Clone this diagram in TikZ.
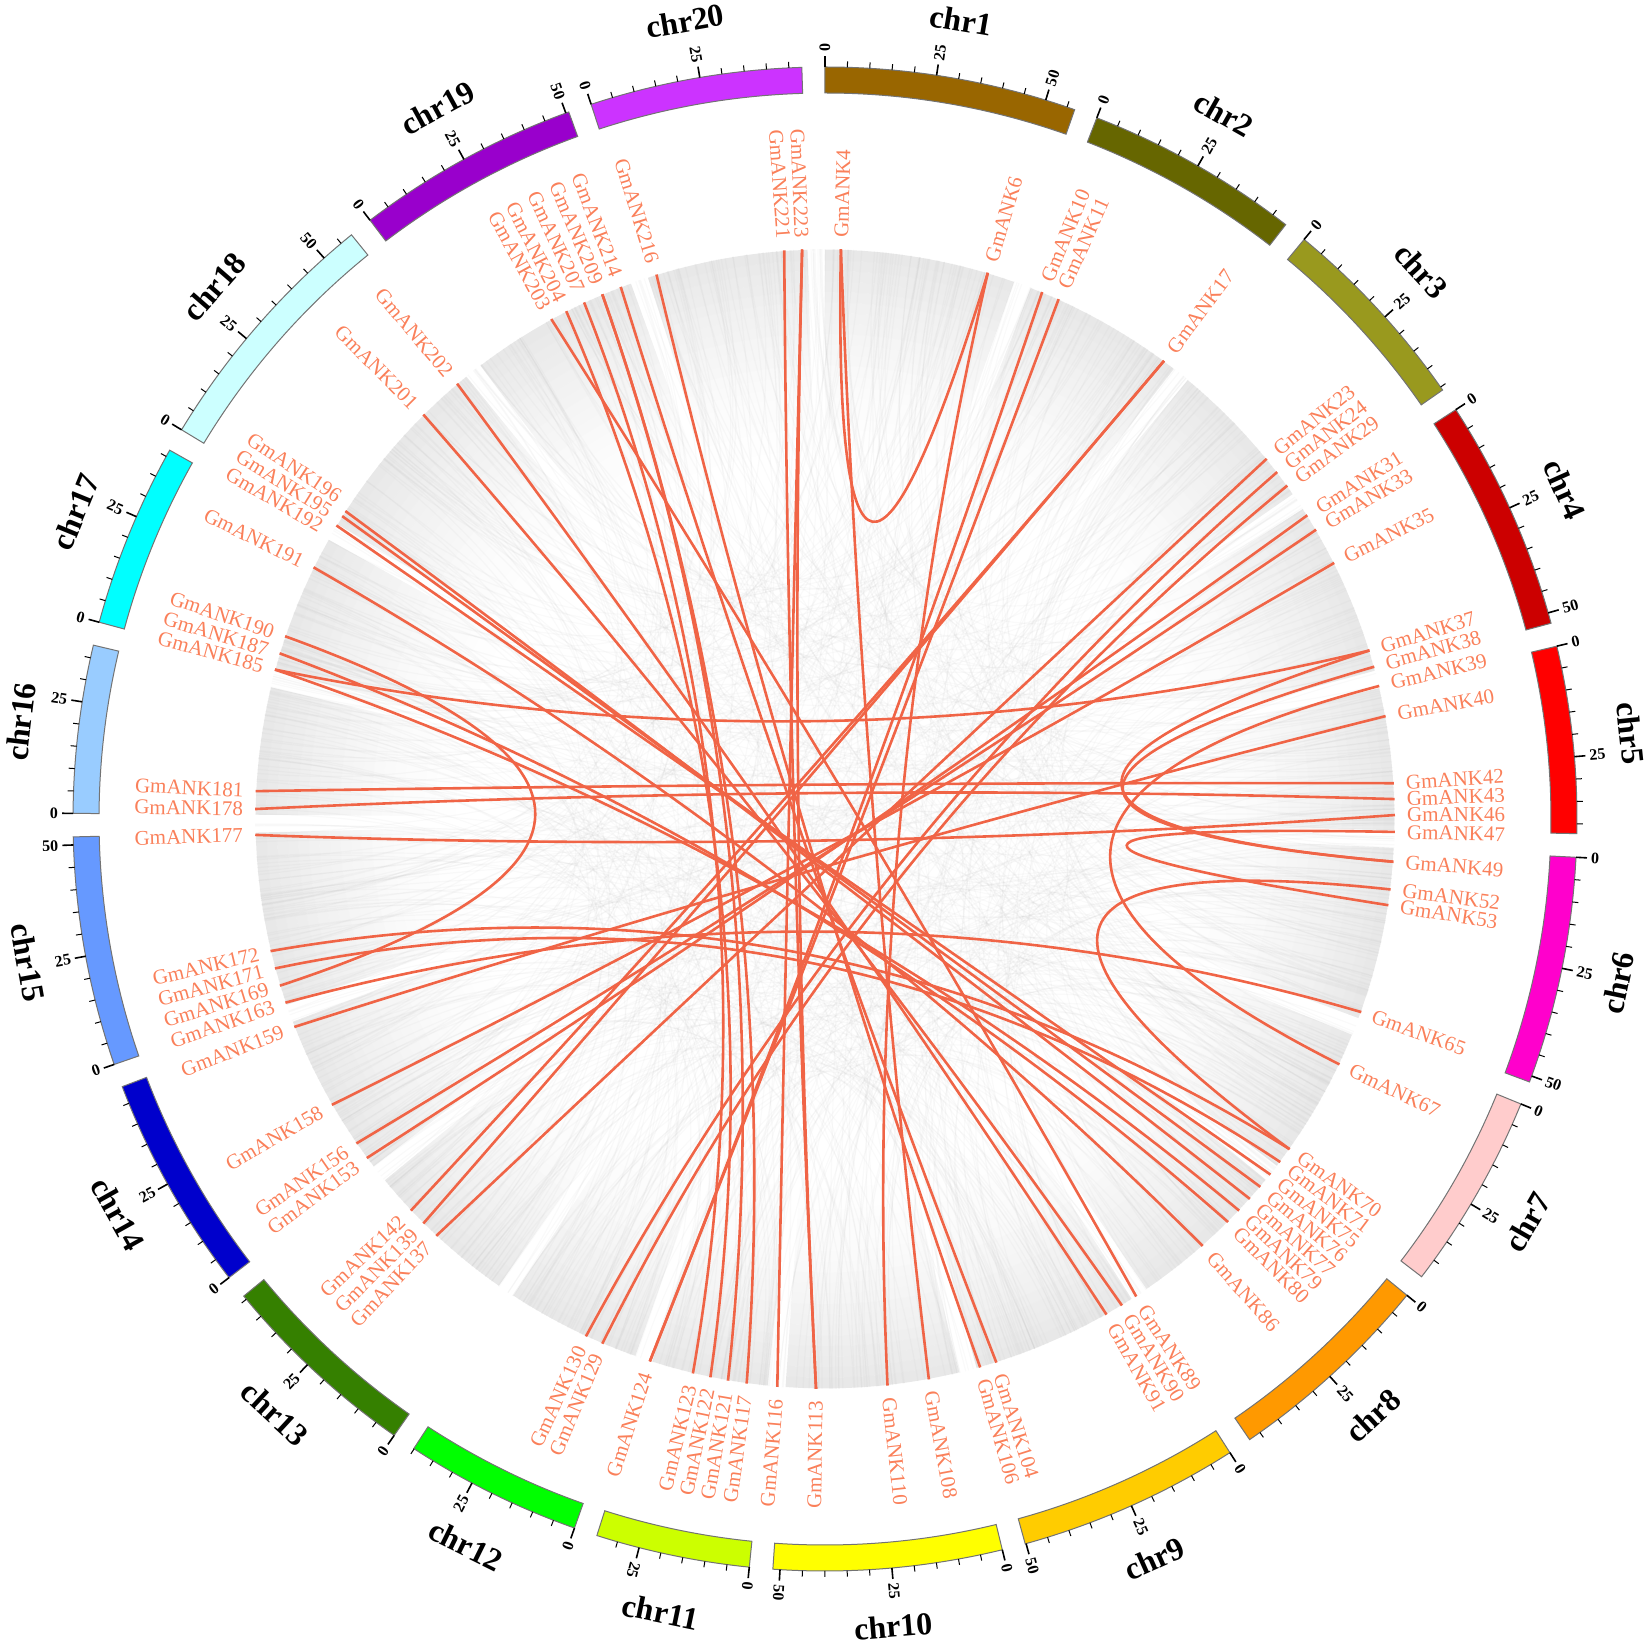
\documentclass[tikz,border=0pt]{standalone}
\usepackage{fontspec}
\setmainfont{Liberation Serif}
\usetikzlibrary{calc}
\definecolor{glab}{RGB}{250,128,90}
\definecolor{glink}{RGB}{240,100,70}
\definecolor{c1}{RGB}{153,102,0}
\definecolor{c2}{RGB}{102,102,0}
\definecolor{c3}{RGB}{153,153,30}
\definecolor{c4}{RGB}{204,0,0}
\definecolor{c5}{RGB}{255,0,0}
\definecolor{c6}{RGB}{255,0,204}
\definecolor{c7}{RGB}{255,204,204}
\definecolor{c8}{RGB}{255,153,0}
\definecolor{c9}{RGB}{255,204,0}
\definecolor{c10}{RGB}{255,255,0}
\definecolor{c11}{RGB}{204,255,0}
\definecolor{c12}{RGB}{0,255,0}
\definecolor{c13}{RGB}{53,128,0}
\definecolor{c14}{RGB}{0,0,204}
\definecolor{c15}{RGB}{102,153,255}
\definecolor{c16}{RGB}{153,204,255}
\definecolor{c17}{RGB}{0,255,255}
\definecolor{c18}{RGB}{204,255,255}
\definecolor{c19}{RGB}{153,0,204}
\definecolor{c20}{RGB}{204,51,255}
% \gene[link angle]{number}{label angle}; angles clockwise from top
\newcommand\gene[3][]{%
  \pgfmathsetmacro\gang{90-#3}%
  \if\relax\detokenize{#1}\relax
    \expandafter\xdef\csname gth#2\endcsname{#3}%
  \else
    \expandafter\xdef\csname gth#2\endcsname{#1}%
  \fi
  \pgfmathsetmacro\lang{90-\csname gth#2\endcsname}%
  \coordinate (g#2) at (\lang:570);%
  \pgfmathtruncatemacro\gflip{#3<180 ? 0 : 1}%
  \ifnum\gflip=0
    \node[glabel, rotate=\gang, anchor=west] (l#2) at (\gang:582) {GmANK#2};%
  \else
    \node[glabel, rotate=\gang+180, anchor=east] (l#2) at (\gang:582) {GmANK#2};%
  \fi}
\newcommand\lnk[2]{%
  \pgfmathsetmacro\tha{\csname gth#1\endcsname}%
  \pgfmathsetmacro\thb{\csname gth#2\endcsname}%
  \pgfmathsetmacro\ldiff{mod(\thb-\tha+720,360)}%
  \pgfmathsetmacro\lmid{\ldiff<=180 ? 90-(\tha+\ldiff/2) : 90-(\thb+(360-\ldiff)/2)}%
  \draw[redlink] (g#1) .. controls ($(g#1)!0.6667!(\lmid:37)$) and ($(g#2)!0.6667!(\lmid:37)$) .. (g#2);}
\begin{document}
\begin{tikzpicture}[x=1pt,y=1pt,
  chrbar/.style={draw=black!55, line width=1pt},
  redlink/.style={draw=glink, line width=2.6pt},
  greylink/.style={draw=black!35, line width=1.2pt, opacity=0.06},
  glabel/.style={text=glab, font=\fontsize{21}{21}\selectfont, inner sep=0pt},
  ticklab/.style={font=\bfseries\fontsize{16}{16}\selectfont, inner sep=0pt},
  chrname/.style={font=\bfseries\fontsize{32}{32}\selectfont, inner sep=0pt}]
\useasboundingbox (-825,-831) rectangle (825,819);
\coordinate (O) at (0,0);
% grey synteny band (dense background links near the rim)
\foreach \ts/\L in {0/56.8, 21.19/48.6, 39.58/45.8, 57.02/52.4, 76.71/42.2,
  92.92/51.4, 112.27/44.6, 129.30/47.8, 147.42/50.2, 166.36/51.6,
  185.78/34.8, 199.46/40.1, 214.95/45.9, 232.42/49.0, 250.95/51.8,
  270.43/37.9, 285.17/41.6, 301.17/58.0, 322.77/50.7, 341.88/47.9}{%
  \pgfmathsetmacro\bs{90-\ts}%
  \pgfmathsetmacro\be{90-\ts-\L*0.3414}%
  \foreach \k in {0,...,19}{%
    \pgfmathsetmacro\br{364.5+10.5*\k}%
    \pgfmathsetmacro\bp{9*((\k+1)/20)^1.6}%
    \draw[line width=10.8pt, draw=black!\bp] (\bs:\br) arc[start angle=\bs, end angle=\be, radius=\br];
  }}
% faint background links through the centre
\pgfmathsetseed{12}
\foreach \i in {1,...,600}{%
  \pgfmathsetmacro\ra{random(0,3599)/10}%
  \pgfmathsetmacro\rb{\ra+60+random(0,2400)/10}%
  \draw[greylink] (\ra:570) .. controls (\ra:200) and (\rb:200) .. (\rb:570);}
% chromosomes
\foreach \n/\ts/\L in {1/0/56.8, 2/21.19/48.6, 3/39.58/45.8, 4/57.02/52.4, 5/76.71/42.2,
  6/92.92/51.4, 7/112.27/44.6, 8/129.30/47.8, 9/147.42/50.2, 10/166.36/51.6,
  11/185.78/34.8, 12/199.46/40.1, 13/214.95/45.9, 14/232.42/49.0, 15/250.95/51.8,
  16/270.43/37.9, 17/285.17/41.6, 18/301.17/58.0, 19/322.77/50.7, 20/341.88/47.9}{%
  \pgfmathsetmacro\chs{90-\ts}%
  \pgfmathsetmacro\che{90-\ts-\L*0.3414}%
  \draw[chrbar, fill=c\n] (\chs:752) arc[start angle=\chs, end angle=\che, radius=752]
     -- (\che:726) arc[start angle=\che, end angle=\chs, radius=726] -- cycle;
  \pgfmathtruncatemacro\nt{\L/5}%
  \foreach \j in {0,...,\nt}{%
    \pgfmathsetmacro\tka{\chs-5*\j*0.3414}%
    \pgfmathtruncatemacro\maj{mod(\j,5)==0 ? 1 : 0}%
    \ifnum\maj=1
      \draw[line width=1.6pt] (\tka:752) -- (\tka:763);
      \pgfmathsetmacro\tkn{mod(\tka+540,360)-180}%
      \pgfmathtruncatemacro\tflip{(\tkn>90.5 || \tkn<-110) ? 1 : 0}%
      \ifnum\tflip=0
        \node[ticklab, rotate=\tkn, anchor=west] at (\tka:767) {\the\numexpr5*\j\relax};
      \else
        \node[ticklab, rotate=\tkn+180, anchor=east] at (\tka:767) {\the\numexpr5*\j\relax};
      \fi
    \else
      \draw[line width=1pt] (\tka:752) -- (\tka:758);
    \fi
  }
  \pgfmathsetmacro\am{mod(90-\ts-\L*0.3414/2+540,360)-180}%
  \pgfmathsetmacro\rt{\am>=0 ? \am-90 : \am+90}%
  \node[chrname, rotate=\rt] (chr\n) at (\am:810) {chr\n};
}
% genes
\gene{4}{1.6}\gene{6}{16.6}\gene{10}{22.4}\gene{11}{24.2}\gene{17}{36.5}
\gene{23}{50.8}\gene{24}{52.5}\gene{29}{54.2}\gene{31}{57.8}\gene{33}{59.5}
\gene{35}{63.3}\gene{37}{72.8}\gene{38}{74.5}\gene{39}{76.5}\gene{40}{79.6}
\gene{42}{86.4}\gene{43}{88.0}\gene{46}{89.6}\gene{47}{91.3}\gene{49}{94.3}
\gene{52}{97.1}\gene{53}{98.7}\gene{65}{109.8}\gene{67}{115.5}\gene{70}{125.4}
\gene{71}{127.0}\gene{75}{128.6}\gene{76}{130.2}\gene{77}{131.8}\gene{79}{133.4}
\gene{80}{135.0}\gene{86}{138.5}\gene{89}{146.9}\gene{90}{148.6}\gene{91}{150.4}
\gene{104}{162.5}\gene{106}{164.2}\gene{108}{169.5}\gene{110}{173.7}\gene{113}{180.9}
\gene{116}{184.8}\gene{117}{187.9}\gene{121}{189.8}\gene{122}{191.6}\gene{123}{193.4}
\gene{124}{197.9}\gene{129}{203.0}\gene{130}{204.8}\gene{137}{223.0}\gene{139}{224.8}
\gene{142}{226.6}\gene{153}{233.5}\gene{156}{235.3}\gene{158}{239.9}\gene{159}{248.6}
\gene{163}{251.2}\gene{169}{253.0}\gene{171}{254.8}\gene{172}{256.6}\gene{177}{268.4}
\gene{178}{271.0}\gene{181}{272.8}\gene{185}{285.2}\gene{187}{286.9}\gene{190}{288.7}
\gene{191}{296.2}\gene[301.0]{192}{300.1}\gene[302.1]{195}{301.8}\gene[302.7]{196}{303.5}
\gene{201}{315.2}\gene{202}{319.8}\gene{203}{331.3}\gene{204}{333.0}\gene{207}{335.0}
\gene{209}{337.0}\gene{214}{339.0}\gene{216}{342.8}\gene{221}{355.9}\gene{223}{357.7}
% duplicated gene pairs
\lnk{4}{6}\lnk{221}{113}\lnk{223}{113}\lnk{223}{116}\lnk{17}{139}\lnk{17}{142}
\lnk{137}{23}\lnk{153}{31}\lnk{156}{33}\lnk{158}{35}\lnk{192}{75}\lnk{195}{76}
\lnk{196}{77}\lnk{191}{86}\lnk{185}{79}\lnk{187}{80}\lnk{190}{169}\lnk{181}{42}
\lnk{178}{43}\lnk{177}{46}\lnk{37}{49}\lnk{38}{49}\lnk{39}{67}\lnk{47}{53}
\lnk{172}{70}\lnk{171}{71}\lnk{163}{65}\lnk{159}{40}\lnk{201}{90}
\lnk{202}{91}\lnk{203}{89}\lnk{204}{122}\lnk{207}{123}\lnk{209}{121}\lnk{209}{117}
\lnk{214}{104}\lnk{216}{106}\lnk{10}{124}\lnk{11}{124}\lnk{6}{110}\lnk{4}{108}
\lnk{130}{24}\lnk{129}{29}\lnk{185}{37}\lnk{52}{70}
\end{tikzpicture}
\end{document}
